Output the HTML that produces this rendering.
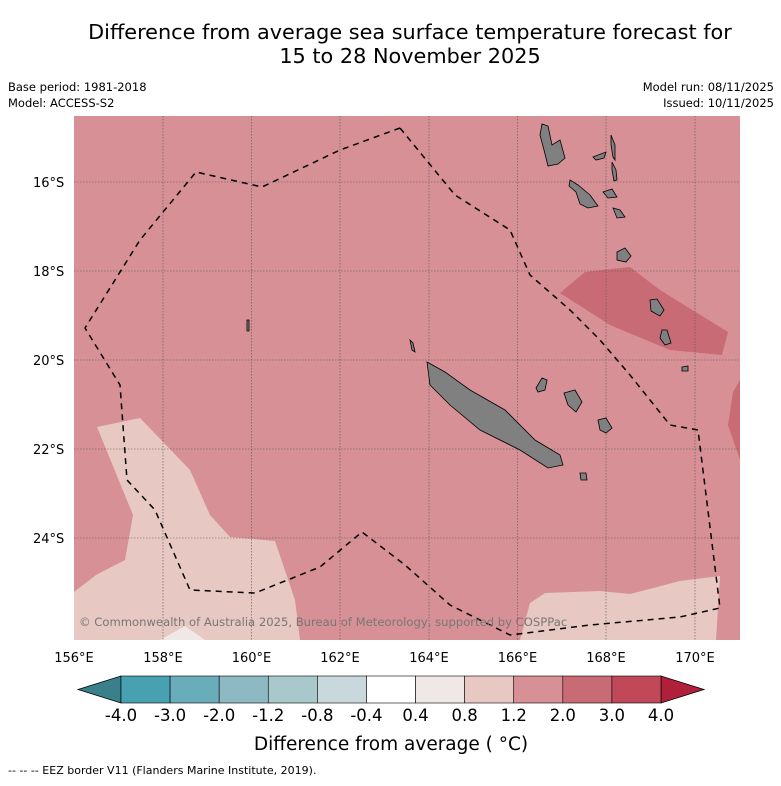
<!DOCTYPE html>
<html><head><meta charset="utf-8"><style>
body{margin:0;background:#fff;width:781px;height:781px;overflow:hidden;font-family:"Liberation Sans","DejaVu Sans",sans-serif}
</style></head><body>
<svg width="781" height="781" viewBox="0 0 781 781" xmlns="http://www.w3.org/2000/svg" font-family="DejaVu Sans, Liberation Sans, sans-serif">
<text x="410" y="39" text-anchor="middle" font-size="20.8" fill="#000">Difference from average sea surface temperature forecast for</text>
<text x="410" y="63" text-anchor="middle" font-size="20.8" fill="#000">15 to 28 November 2025</text>
<text x="8" y="91" font-size="11.5">Base period: 1981-2018</text>
<text x="8" y="107" font-size="11.5">Model: ACCESS-S2</text>
<text x="774" y="91" font-size="11.5" text-anchor="end">Model run: 08/11/2025</text>
<text x="774" y="107" font-size="11.5" text-anchor="end">Issued: 10/11/2025</text>
<defs><clipPath id="mc"><rect x="74" y="116" width="666" height="524"/></clipPath></defs>
<g clip-path="url(#mc)">
<rect x="74" y="116" width="666" height="524" fill="#d79096"/>
<polygon points="74,592 96,575 125,560 133,515 97,427 140,418 190,470 210,515 230,537 275,541 295,600 300,640 74,640" fill="#e8c8c2"/>
<polygon points="160,640 185,626 205,640" fill="#efe8e6"/>
<polygon points="520,640 530,603 545,593 600,591 630,594 680,581 720,576 716,640" fill="#e8c8c2"/>
<polygon points="560,293 585,272 630,267 660,290 728,332 722,355 670,350 610,325" fill="#c96b74"/>
<polygon points="740,380 733,392 728,425 740,460" fill="#c96b74"/>
<g stroke="#555" stroke-width="0.6" stroke-dasharray="1.5,1.5">
<line x1="163" y1="116" x2="163" y2="640"/><line x1="251.5" y1="116" x2="251.5" y2="640"/><line x1="340" y1="116" x2="340" y2="640"/><line x1="429" y1="116" x2="429" y2="640"/><line x1="517.5" y1="116" x2="517.5" y2="640"/><line x1="606" y1="116" x2="606" y2="640"/><line x1="695" y1="116" x2="695" y2="640"/>
<line x1="74" y1="182" x2="740" y2="182"/><line x1="74" y1="271" x2="740" y2="271"/><line x1="74" y1="360" x2="740" y2="360"/><line x1="74" y1="449" x2="740" y2="449"/><line x1="74" y1="538" x2="740" y2="538"/>
</g>
<g fill="#808080" stroke="#000" stroke-width="0.8">
<path d="M427,362 L445,372 L470,390 L505,410 L535,440 L560,455 L563,465 L548,468 L520,450 L480,430 L450,405 L430,385 Z"/>
<path d="M542,124 L548,126 L552,145 L560,140 L565,158 L558,164 L548,166 L544,150 L540,135 Z"/>
<path d="M570,180 L578,185 L590,195 L598,206 L588,208 L580,204 L576,192 L569,186 Z"/>
<path d="M593,157 L606,152 L604,158 L596,160 Z"/>
<path d="M611,135 L615,145 L615,160 L613,157 L611,145 Z"/>
<path d="M612,162 L616,170 L617,180 L614,181 L612,170 Z"/>
<path d="M603,192 L612,189 L617,197 L608,198 Z"/>
<path d="M613,208 L620,210 L625,217 L617,218 Z"/>
<path d="M617,252 L625,248 L631,256 L626,262 L617,260 Z"/>
<path d="M650,300 L657,299 L664,310 L660,316 L651,311 Z"/>
<path d="M662,330 L667,330 L671,343 L665,345 L660,338 Z"/>
<path d="M682,367 L688,366 L688,371 L682,371 Z"/>
<path d="M564,393 L575,390 L582,402 L576,412 L568,405 Z"/>
<path d="M598,420 L606,418 L612,428 L606,433 L600,430 Z"/>
<path d="M536,388 L542,378 L547,380 L545,390 L538,392 Z"/>
<path d="M580,473 L586,473 L587,480 L581,480 Z"/>
<path d="M247,320 L249,320 L249,331 L247,331 Z"/>
<path d="M410,340 L413,343 L415,352 L412,350 Z"/>
</g>
<path d="M400,128 L340,150 L262,187 L196,172 L140,240 L85,328 L120,385 L127,480 L155,510 L190,590 L255,593 L320,567 L362,532 L405,565 L450,605 L510,635 L590,625 L680,617 L720,608 L698,430 L670,425 L630,375 L600,340 L570,310 L530,275 L510,230 L455,195 Z" fill="none" stroke="#000" stroke-width="1.5" stroke-dasharray="6,5"/>
<text x="79" y="626" font-size="11.6" fill="#777">© Commonwealth of Australia 2025, Bureau of Meteorology, supported by COSPPac</text>
</g>
<g font-size="13" fill="#000">
<text x="33" y="187">16°S</text><text x="33" y="276">18°S</text><text x="33" y="365">20°S</text><text x="33" y="454">22°S</text><text x="33" y="543">24°S</text>
<g text-anchor="middle"><text x="74" y="662">156°E</text><text x="163" y="662">158°E</text><text x="251.5" y="662">160°E</text><text x="340" y="662">162°E</text><text x="429" y="662">164°E</text><text x="517.5" y="662">166°E</text><text x="606" y="662">168°E</text><text x="695" y="662">170°E</text></g>
</g>
<g id="cbar"></g>
<text x="391" y="750" text-anchor="middle" font-size="18.5">Difference from average ( °C)</text>
<text x="8" y="774" font-size="11">--  --  -- EEZ border V11 (Flanders Marine Institute, 2019).</text>
</svg>
<script>
const tickLabels=["-4.0","-3.0","-2.0","-1.2","-0.8","-0.4","0.4","0.8","1.2","2.0","3.0","4.0"];
const binColors=["#47a1b0","#6aadba","#8db9c3","#a9c8cc","#c9d8dc","#ffffff","#efe8e6","#e8c8c2","#d79096","#c96b74","#c04858"];
const g=document.getElementById('cbar');const NS="http://www.w3.org/2000/svg";
const x0=121,x1=661,y0=676,h=27,w=(x1-x0)/binColors.length;
function mk(t,a){const e=document.createElementNS(NS,t);for(const k in a)e.setAttribute(k,a[k]);g.appendChild(e);return e;}
let e=mk('polygon',{points:`${x0},${y0} ${x0},${y0+h} 78,${y0+h/2}`,fill:'#3a808a',stroke:'#000','stroke-width':0.8});


e=mk('polygon',{points:`${x1},${y0} ${x1},${y0+h} 704,${y0+h/2}`,fill:'#b0203a',stroke:'#000','stroke-width':0.8});


binColors.forEach((c,i)=>{const r=mk('rect',{x:x0+i*w,y:y0,width:w,height:h,fill:c,stroke:'#000','stroke-width':0.6});

});
tickLabels.forEach((t,i)=>{const tx=mk('text',{x:x0+i*w,y:721,'text-anchor':'middle','font-size':16.5});tx.textContent=t;

});
</script>
</body></html>
